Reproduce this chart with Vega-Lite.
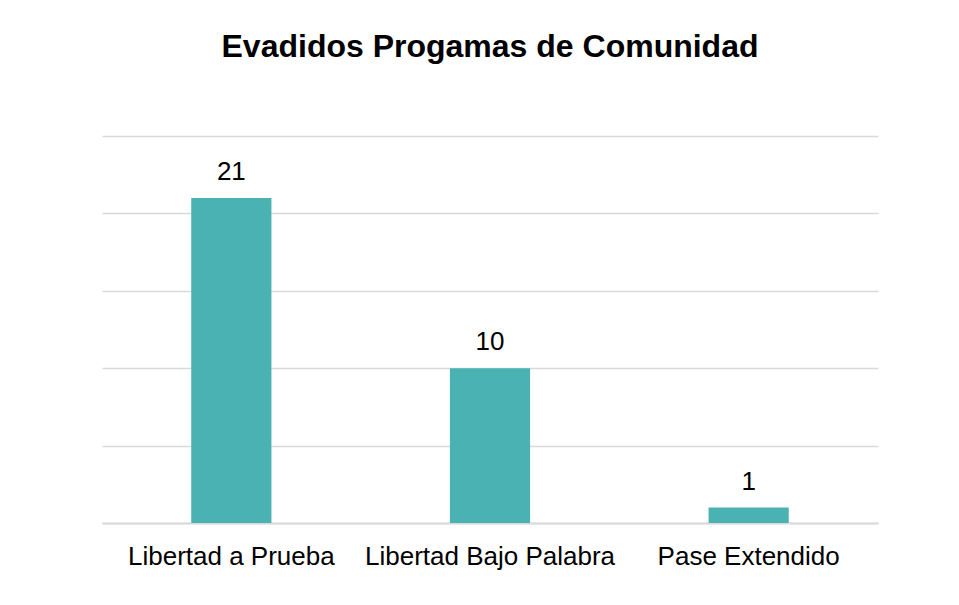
{
  "$schema": "https://vega.github.io/schema/vega-lite/v6.json",
  "width": 776,
  "height": 387,
  "autosize": {"type": "none"},
  "padding": {"left": 102, "top": 136, "right": 81, "bottom": 82},
  "background": "white",
  "title": {
    "text": "Evadidos Progamas de Comunidad",
    "font": "Liberation Sans",
    "fontSize": 32,
    "fontWeight": "bold",
    "color": "#000000",
    "anchor": "middle",
    "baseline": "alphabetic",
    "offset": 47
  },
  "data": {
    "values": [
      {"programa": "Libertad a Prueba", "evadidos": 21},
      {"programa": "Libertad Bajo Palabra", "evadidos": 10},
      {"programa": "Pase Extendido", "evadidos": 1}
    ]
  },
  "encoding": {
    "x": {
      "field": "programa",
      "type": "nominal",
      "sort": null,
      "scale": {"paddingInner": 0.69, "paddingOuter": 0.345},
      "axis": {
        "title": null,
        "labelAngle": 0,
        "labelFont": "Liberation Sans",
        "labelFontSize": 26,
        "labelColor": "#000000",
        "labelBaseline": "alphabetic",
        "labelPadding": 41,
        "labelLimit": 0,
        "ticks": false,
        "tickSize": 0,
        "domainColor": "#d9d9d9",
        "domainWidth": 2,
        "grid": false
      }
    },
    "y": {
      "field": "evadidos",
      "type": "quantitative",
      "scale": {"domain": [0, 25], "nice": false},
      "axis": {
        "title": null,
        "labels": false,
        "ticks": false,
        "domain": false,
        "values": [0, 5, 10, 15, 20, 25],
        "grid": true,
        "gridColor": "#d9d9d9",
        "gridWidth": 1.5
      }
    }
  },
  "layer": [
    {"mark": {"type": "bar", "color": "#4BB2B4"}},
    {
      "mark": {
        "type": "text",
        "baseline": "alphabetic",
        "dy": -18,
        "font": "Liberation Sans",
        "fontSize": 26,
        "color": "#000000"
      },
      "encoding": {"text": {"field": "evadidos", "type": "quantitative"}}
    }
  ],
  "config": {"view": {"stroke": null}}
}
